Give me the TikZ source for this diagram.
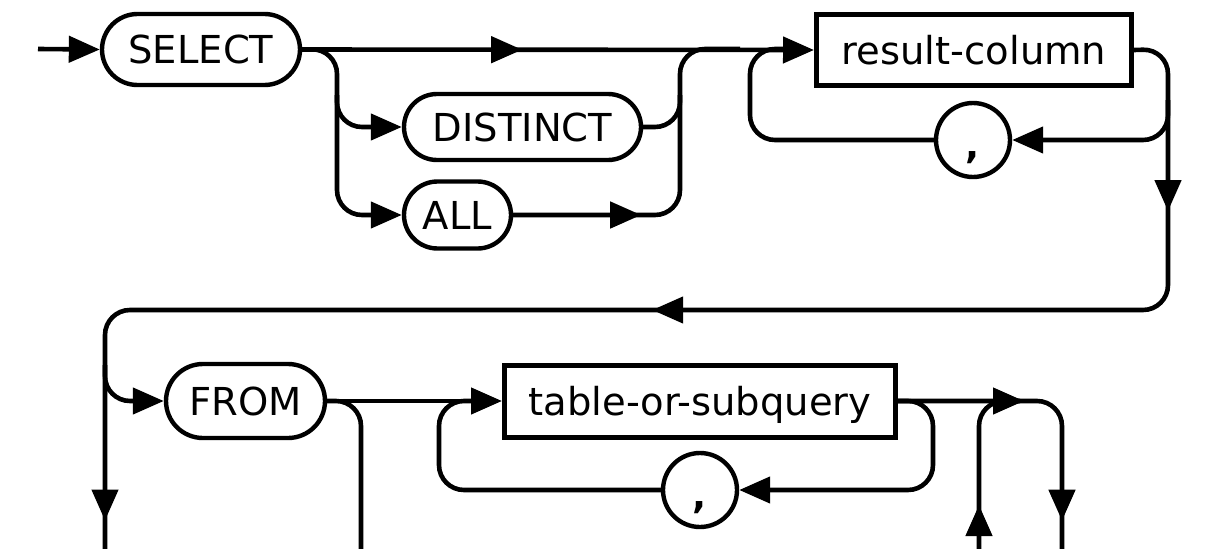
\documentclass[tikz,border=0pt]{standalone}
\usepackage{fontspec}
\setmainfont{DejaVu Sans}
\usetikzlibrary{arrows.meta,shapes.misc,decorations.markings}
\tikzset{
  rail/.style={line width=4.6pt, rounded corners=25pt},
  tipr/.style={-{Triangle[length=31pt,width=26pt]}},
  midarr/.style={postaction={decorate,decoration={markings,mark=at position #1 with {\arrow{Triangle[length=31pt,width=26pt]}}}}},
  kw/.style={rounded rectangle, draw, line width=4.4pt, inner sep=0pt,
    font=\fontsize{38.5}{40}\selectfont, text height=28pt, text depth=0pt},
  nt/.style={rectangle, draw, line width=5pt, inner sep=0pt,
    font=\fontsize{38.5}{40}\selectfont, text height=28pt, text depth=0pt},
  sepc/.style={circle, draw, line width=4.4pt, minimum size=74pt, inner sep=0pt,
    font=\fontsize{37}{40}\selectfont\bfseries, text height=36pt, text depth=0pt},
}
\begin{document}
\begin{tikzpicture}[x=1pt,y=-1pt]
\useasboundingbox (0,0) rectangle (1219,549);
% nodes
\node[kw, minimum width=198pt, minimum height=71pt] (sel) at (201,49.5) {SELECT};
\node[kw, minimum width=237pt, minimum height=66pt] (dist) at (522.5,127) {DISTINCT};
\node[kw, minimum width=107pt, minimum height=67pt] (all) at (457.5,215) {ALL};
\node[nt, minimum width=315pt, minimum height=71pt] (rc) at (974,50) {result-column};
\node[sepc] (c1) at (973,140) {,};
\node[kw, minimum width=159pt, minimum height=74pt] (from) at (245.5,401) {FROM};
\node[nt, minimum width=391pt, minimum height=72pt] (tos) at (700,401) {table-or-subquery};
\node[sepc] (c2) at (700,490) {,};
% junction coordinates
\coordinate (start) at (38,49);
\coordinate (b1) at (337,49);
\coordinate (b2) at (337,215);
\coordinate (bd) at (337,95);
\coordinate (bd2) at (337,127);
\coordinate (m1) at (680,215);
\coordinate (m2) at (680,49);
\coordinate (m3) at (740,49);
\coordinate (md1) at (680,127);
\coordinate (md) at (680,95);
\coordinate (l1) at (750,140);
\coordinate (l2) at (750,49);
\coordinate (l3) at (790,49);
\coordinate (r1) at (1168,49);
\coordinate (r2) at (1168,310);
\coordinate (r3) at (105,310);
\coordinate (r4) at (105,549);
\coordinate (rb) at (1168,100);
\coordinate (rb2) at (1168,140);
\coordinate (f1) at (105,365);
\coordinate (f2) at (105,401);
\coordinate (s1) at (361,401);
\coordinate (s2) at (361,549);
\coordinate (t1) at (439,490);
\coordinate (t2) at (439,401);
\coordinate (t3) at (480,401);
\coordinate (u1) at (933,401);
\coordinate (u2) at (933,490);
\coordinate (v1) at (979,549);
\coordinate (v2) at (979,401);
\coordinate (v3) at (1020,401);
\coordinate (w1) at (1062,401);
\coordinate (w2) at (1062,549);
% rails
\draw[rail,tipr] (start) -- (sel.west);
\draw[rail,tipr,midarr=220pt] (sel.east) -- (rc.west);
\draw[rail,tipr] (sel.east) -- (b1) -- (b2) -- (all.west);
\draw[rail,tipr] (bd) -- (bd2) -- (dist.west);
\draw[rail,midarr=128pt] (all.east) -- (m1) -- (m2) -- (m3);
\draw[rail] (dist.east) -- (md1) -- (md);
\draw[rail] (c1.west) -- (l1) -- (l2) -- (l3);
\draw[rail,midarr=185pt,midarr=789pt,midarr=1536pt] (rc.east) -- (r1) -- (r2) -- (r3) -- (r4);
\draw[rail,tipr] (rb) -- (rb2) -- (c1.east);
\draw[rail,tipr] (f1) -- (f2) -- (from.west);
\draw[rail,tipr] (from.east) -- (tos.west);
\draw[rail] (from.east) -- (s1) -- (s2);
\draw[rail] (c2.west) -- (t1) -- (t2) -- (t3);
\draw[rail,tipr] (tos.east) -- (u1) -- (u2) -- (c2.east);
\draw[rail,midarr=126pt,midarr=273pt] (tos.east) -- (w1) -- (w2);
\draw[rail,midarr=44pt] (v1) -- (v2) -- (v3);
\end{tikzpicture}
\end{document}
